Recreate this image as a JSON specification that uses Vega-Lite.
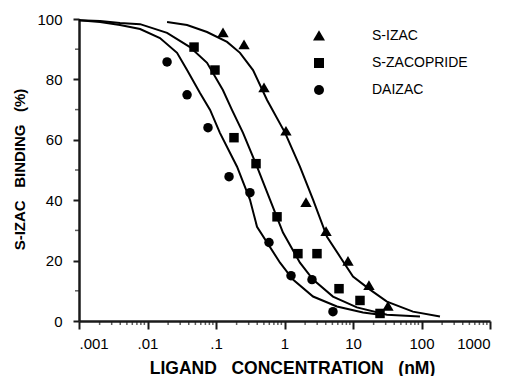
{
  "$schema": "https://vega.github.io/schema/vega-lite/v6.json",
  "autosize": {"type": "none"},
  "width": 411,
  "height": 302,
  "padding": {"left": 79, "top": 19, "right": 22, "bottom": 55},
  "background": "white",
  "config": {"view": {"stroke": null}, "font": "Liberation Sans"},
  "datasets": {
    "points": [
      {"series": "S-IZAC", "conc": 0.1265, "binding": 95.4},
      {"series": "S-IZAC", "conc": 0.2566, "binding": 91.4},
      {"series": "S-IZAC", "conc": 0.502, "binding": 77.2},
      {"series": "S-IZAC", "conc": 1.05, "binding": 62.8},
      {"series": "S-IZAC", "conc": 2.06, "binding": 39.2},
      {"series": "S-IZAC", "conc": 4.04, "binding": 29.6},
      {"series": "S-IZAC", "conc": 8.45, "binding": 19.7},
      {"series": "S-IZAC", "conc": 17.1, "binding": 11.7},
      {"series": "S-IZAC", "conc": 32.4, "binding": 4.8},
      {"series": "S-ZACOPRIDE", "conc": 0.0478, "binding": 90.7},
      {"series": "S-ZACOPRIDE", "conc": 0.0966, "binding": 83.1},
      {"series": "S-ZACOPRIDE", "conc": 0.183, "binding": 60.7},
      {"series": "S-ZACOPRIDE", "conc": 0.384, "binding": 52.1},
      {"series": "S-ZACOPRIDE", "conc": 0.778, "binding": 34.5},
      {"series": "S-ZACOPRIDE", "conc": 1.57, "binding": 22.3},
      {"series": "S-ZACOPRIDE", "conc": 2.98, "binding": 22.3},
      {"series": "S-ZACOPRIDE", "conc": 6.25, "binding": 10.7},
      {"series": "S-ZACOPRIDE", "conc": 12.65, "binding": 6.8},
      {"series": "S-ZACOPRIDE", "conc": 24.8, "binding": 2.5},
      {"series": "DAIZAC", "conc": 0.0193, "binding": 85.8},
      {"series": "DAIZAC", "conc": 0.0378, "binding": 74.9},
      {"series": "DAIZAC", "conc": 0.0764, "binding": 64.0},
      {"series": "DAIZAC", "conc": 0.155, "binding": 47.8},
      {"series": "DAIZAC", "conc": 0.313, "binding": 42.5},
      {"series": "DAIZAC", "conc": 0.594, "binding": 26.0},
      {"series": "DAIZAC", "conc": 1.245, "binding": 15.0},
      {"series": "DAIZAC", "conc": 2.52, "binding": 13.7},
      {"series": "DAIZAC", "conc": 5.1, "binding": 3.1}
    ],
    "curves": [
      {"series": "S-IZAC", "conc": 0.0193, "binding": 99.0},
      {"series": "S-IZAC", "conc": 0.0378, "binding": 98.0},
      {"series": "S-IZAC", "conc": 0.074, "binding": 95.7},
      {"series": "S-IZAC", "conc": 0.145, "binding": 92.4},
      {"series": "S-IZAC", "conc": 0.224, "binding": 88.8},
      {"series": "S-IZAC", "conc": 0.347, "binding": 83.1},
      {"series": "S-IZAC", "conc": 0.556, "binding": 73.2},
      {"series": "S-IZAC", "conc": 1.02, "binding": 62.3},
      {"series": "S-IZAC", "conc": 1.68, "binding": 51.1},
      {"series": "S-IZAC", "conc": 2.61, "binding": 40.2},
      {"series": "S-IZAC", "conc": 4.17, "binding": 27.9},
      {"series": "S-IZAC", "conc": 6.46, "binding": 21.3},
      {"series": "S-IZAC", "conc": 10, "binding": 14.7},
      {"series": "S-IZAC", "conc": 17.7, "binding": 10.4},
      {"series": "S-IZAC", "conc": 31.3, "binding": 6.4},
      {"series": "S-IZAC", "conc": 75, "binding": 3.1},
      {"series": "S-IZAC", "conc": 186, "binding": 1.5},
      {"series": "S-ZACOPRIDE", "conc": 0.001, "binding": 99.6},
      {"series": "S-ZACOPRIDE", "conc": 0.00203, "binding": 99.3},
      {"series": "S-ZACOPRIDE", "conc": 0.00397, "binding": 98.7},
      {"series": "S-ZACOPRIDE", "conc": 0.0078, "binding": 98.3},
      {"series": "S-ZACOPRIDE", "conc": 0.0193, "binding": 95.4},
      {"series": "S-ZACOPRIDE", "conc": 0.0417, "binding": 90.7},
      {"series": "S-ZACOPRIDE", "conc": 0.074, "binding": 85.5},
      {"series": "S-ZACOPRIDE", "conc": 0.126, "binding": 76.5},
      {"series": "S-ZACOPRIDE", "conc": 0.171, "binding": 69.9},
      {"series": "S-ZACOPRIDE", "conc": 0.248, "binding": 62.3},
      {"series": "S-ZACOPRIDE", "conc": 0.397, "binding": 51.1},
      {"series": "S-ZACOPRIDE", "conc": 0.614, "binding": 40.2},
      {"series": "S-ZACOPRIDE", "conc": 0.95, "binding": 29.3},
      {"series": "S-ZACOPRIDE", "conc": 1.68, "binding": 19.3},
      {"series": "S-ZACOPRIDE", "conc": 2.61, "binding": 13.7},
      {"series": "S-ZACOPRIDE", "conc": 5.1, "binding": 8.1},
      {"series": "S-ZACOPRIDE", "conc": 11.4, "binding": 4.5},
      {"series": "S-ZACOPRIDE", "conc": 31.3, "binding": 2.1},
      {"series": "S-ZACOPRIDE", "conc": 95, "binding": 1.5},
      {"series": "DAIZAC", "conc": 0.001, "binding": 99.6},
      {"series": "DAIZAC", "conc": 0.00203, "binding": 99.0},
      {"series": "DAIZAC", "conc": 0.00397, "binding": 98.0},
      {"series": "DAIZAC", "conc": 0.0078, "binding": 96.7},
      {"series": "DAIZAC", "conc": 0.0152, "binding": 93.7},
      {"series": "DAIZAC", "conc": 0.027, "binding": 88.8},
      {"series": "DAIZAC", "conc": 0.0378, "binding": 83.1},
      {"series": "DAIZAC", "conc": 0.0584, "binding": 75.5},
      {"series": "DAIZAC", "conc": 0.082, "binding": 69.9},
      {"series": "DAIZAC", "conc": 0.114, "binding": 62.3},
      {"series": "DAIZAC", "conc": 0.203, "binding": 51.1},
      {"series": "DAIZAC", "conc": 0.313, "binding": 40.2},
      {"series": "DAIZAC", "conc": 0.397, "binding": 31.2},
      {"series": "DAIZAC", "conc": 0.86, "binding": 19.3},
      {"series": "DAIZAC", "conc": 1.33, "binding": 13.7},
      {"series": "DAIZAC", "conc": 2.61, "binding": 8.1},
      {"series": "DAIZAC", "conc": 5.83, "binding": 4.8},
      {"series": "DAIZAC", "conc": 14, "binding": 2.8},
      {"series": "DAIZAC", "conc": 24.8, "binding": 2.1}
    ],
    "xminor": [
      {"conc": 0.002}, {"conc": 0.003}, {"conc": 0.004}, {"conc": 0.005}, {"conc": 0.006}, {"conc": 0.007}, {"conc": 0.008}, {"conc": 0.009},
      {"conc": 0.02}, {"conc": 0.03}, {"conc": 0.04}, {"conc": 0.05}, {"conc": 0.06}, {"conc": 0.07}, {"conc": 0.08}, {"conc": 0.09},
      {"conc": 0.2}, {"conc": 0.3}, {"conc": 0.4}, {"conc": 0.5}, {"conc": 0.6}, {"conc": 0.7}, {"conc": 0.8}, {"conc": 0.9},
      {"conc": 2}, {"conc": 3}, {"conc": 4}, {"conc": 5}, {"conc": 6}, {"conc": 7}, {"conc": 8}, {"conc": 9},
      {"conc": 20}, {"conc": 30}, {"conc": 40}, {"conc": 50}, {"conc": 60}, {"conc": 70}, {"conc": 80}, {"conc": 90},
      {"conc": 200}, {"conc": 300}, {"conc": 400}, {"conc": 500}, {"conc": 600}, {"conc": 700}, {"conc": 800}, {"conc": 900}
    ],
    "yminor": [{"binding": 10}, {"binding": 30}, {"binding": 50}, {"binding": 70}, {"binding": 90}]
  },
  "layer": [
    {
      "data": {"name": "curves"},
      "mark": {"type": "line", "color": "black", "strokeWidth": 2},
      "encoding": {
        "x": {
          "field": "conc", "type": "quantitative",
          "scale": {"type": "log", "domain": [0.001, 1000], "nice": false},
          "axis": {
            "values": [0.001, 0.01, 0.1, 1, 10, 100, 1000],
            "labelExpr": "datum.value==0.001?'.001':datum.value==0.01?'.01':datum.value==0.1?'.1':''+datum.value",
            "labelFontSize": 15,
            "labelColor": "black",
            "labelPadding": 7,
            "grid": false,
            "domain": true,
            "domainColor": "#1a1a1a",
            "domainWidth": 2.5,
            "ticks": true,
            "tickColor": "#1a1a1a",
            "tickWidth": 2,
            "tickSize": 8,
            "title": "LIGAND\u00a0\u00a0\u00a0CONCENTRATION\u00a0\u00a0\u00a0(nM)",
            "titleColor": "black",
            "titleFontSize": 17.5,
            "titleFontWeight": "bold",
            "titleX": 213,
            "titleY": 52,
            "titleAlign": "center",
            "titleBaseline": "alphabetic"
          }
        },
        "y": {
          "field": "binding", "type": "quantitative",
          "scale": {"domain": [0, 100], "nice": false},
          "axis": {
            "values": [0, 20, 40, 60, 80, 100],
            "labelFontSize": 15,
            "labelColor": "black",
            "labelPadding": 11,
            "grid": false,
            "domain": true,
            "domainColor": "#1a1a1a",
            "domainWidth": 2.5,
            "ticks": true,
            "tickColor": "#1a1a1a",
            "tickWidth": 2,
            "tickSize": 6,
            "title": "S-IZAC\u00a0\u00a0\u00a0BINDING\u00a0\u00a0\u00a0(%)",
            "titleColor": "black",
            "titleFontSize": 15,
            "titleFontWeight": "bold",
            "titleAngle": -90,
            "titleX": -60,
            "titleY": 150,
            "titleAlign": "center",
            "titleBaseline": "middle"
          }
        },
        "detail": {"field": "series", "type": "nominal"}
      }
    },
    {
      "data": {"name": "xminor"},
      "mark": {"type": "tick", "orient": "vertical", "color": "#1a1a1a", "size": 4, "thickness": 1.5, "yOffset": 2},
      "encoding": {
        "x": {"field": "conc", "type": "quantitative"},
        "y": {"datum": 0, "type": "quantitative"}
      }
    },
    {
      "data": {"name": "yminor"},
      "mark": {"type": "tick", "orient": "horizontal", "color": "#1a1a1a", "size": 4, "thickness": 1.5, "xOffset": -2},
      "encoding": {
        "y": {"field": "binding", "type": "quantitative"},
        "x": {"datum": 0.001, "type": "quantitative"}
      }
    },
    {
      "data": {"name": "points"},
      "mark": {"type": "point", "filled": true, "color": "black", "opacity": 1, "size": 90},
      "encoding": {
        "x": {"field": "conc", "type": "quantitative"},
        "y": {"field": "binding", "type": "quantitative"},
        "shape": {
          "field": "series", "type": "nominal",
          "scale": {"domain": ["S-IZAC", "S-ZACOPRIDE", "DAIZAC"], "range": ["M0,-1.15L1.2,0.9L-1.2,0.9Z", "square", "circle"]},
          "legend": {
            "title": null,
            "orient": "none",
            "legendX": 233,
            "legendY": 10,
            "symbolSize": 100,
            "labelFontSize": 14,
            "labelColor": "black",
            "labelOffset": 46,
            "rowPadding": 11
          }
        }
      }
    }
  ]
}
